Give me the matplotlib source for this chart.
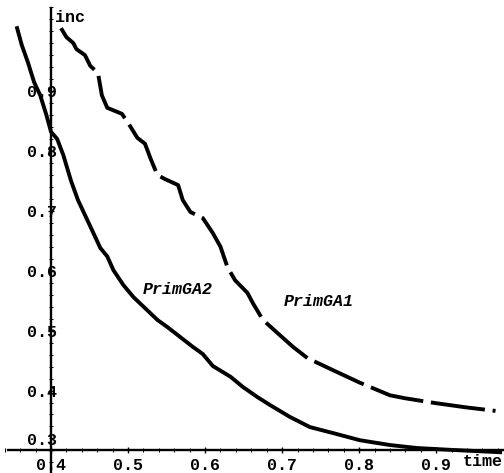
"""Scanned Mathematica-style plot: inc vs time for PrimGA1 / PrimGA2."""
import matplotlib
matplotlib.use("Agg")
import matplotlib.pyplot as plt
import matplotlib.transforms as mtransforms
from matplotlib.ticker import MultipleLocator

# PrimGA1 (upper, dashed)
ga1_time = [0.413, 0.420, 0.429, 0.433, 0.444, 0.451, 0.461, 0.466, 0.473, 0.492,
            0.500, 0.512, 0.522, 0.529, 0.538, 0.548, 0.565, 0.571, 0.581, 0.597,
            0.610, 0.620, 0.629, 0.639, 0.655, 0.662, 0.675, 0.694, 0.714, 0.733,
            0.766, 0.801, 0.840, 0.860, 0.899, 0.938, 0.977]
ga1_inc = [1.005, 0.990, 0.980, 0.970, 0.960, 0.942, 0.930, 0.893, 0.872, 0.862,
           0.847, 0.822, 0.812, 0.788, 0.760, 0.753, 0.743, 0.718, 0.698, 0.688,
           0.663, 0.640, 0.606, 0.584, 0.563, 0.546, 0.518, 0.496, 0.473, 0.454,
           0.434, 0.413, 0.392, 0.387, 0.379, 0.372, 0.366]

# PrimGA2 (lower, solid)
ga2_time = [0.356, 0.362, 0.370, 0.378, 0.386, 0.394, 0.400, 0.408, 0.416, 0.426,
            0.435, 0.447, 0.455, 0.464, 0.473, 0.481, 0.494, 0.507, 0.525, 0.538,
            0.551, 0.568, 0.584, 0.597, 0.610, 0.633, 0.649, 0.668, 0.684, 0.710,
            0.736, 0.766, 0.801, 0.840, 0.875, 0.918, 0.983]
ga2_inc = [1.005, 0.977, 0.948, 0.915, 0.893, 0.860, 0.832, 0.820, 0.793, 0.750,
           0.718, 0.685, 0.663, 0.638, 0.624, 0.601, 0.576, 0.556, 0.534, 0.518,
           0.506, 0.489, 0.473, 0.461, 0.441, 0.423, 0.406, 0.389, 0.376, 0.356,
           0.339, 0.329, 0.317, 0.309, 0.304, 0.301, 0.297]

x_ticks = [0.4, 0.5, 0.6, 0.7, 0.8, 0.9]
y_ticks = [0.3, 0.4, 0.5, 0.6, 0.7, 0.8, 0.9]

MONO = "Liberation Mono"
plt.rcParams.update({"font.family": [MONO, "DejaVu Sans Mono"], "font.weight": "bold"})

fig = plt.figure(figsize=(5.04, 4.73), dpi=100)
ax = fig.add_axes([0, 0, 1, 1])
ax.set_xlim(0.3338, 0.988)
ax.set_ylim(0.2623, 1.052)

ax.plot(ga2_time, ga2_inc, color="black", lw=2.8, solid_joinstyle="round")
ax.plot(ga1_time, ga1_inc, color="black", lw=2.8, dashes=(14, 2.0),
        dash_capstyle="butt")

# axes crossing at (0.4, 0.3), Mathematica style
for side in ("top", "right"):
    ax.spines[side].set_visible(False)
ax.spines["left"].set_position(("data", 0.4))
ax.spines["bottom"].set_position(("data", 0.3))
ax.spines["left"].set_bounds(0.2623, 1.0386)
ax.spines["bottom"].set_bounds(0.344, 0.988)
for s in ("left", "bottom"):
    ax.spines[s].set_linewidth(1.7)

ax.set_xticks(x_ticks)
ax.set_xticklabels([f"{v:.1f}" for v in x_ticks])
ax.set_yticks(y_ticks)
ax.set_yticklabels([f"{v:.1f}" for v in y_ticks])
ax.xaxis.set_minor_locator(MultipleLocator(0.02))
ax.yaxis.set_minor_locator(MultipleLocator(0.02))
ax.tick_params(which="major", direction="inout", length=5, width=1.0, labelsize=12)
ax.tick_params(which="minor", direction="inout", length=2.5, width=0.7)
ax.tick_params(axis="x", pad=3)
ax.tick_params(axis="y", pad=-7)
# lowest y label sits a little above the x axis in the scan
lbl = ax.get_yticklabels()[0]
lbl.set_transform(lbl.get_transform() +
                  mtransforms.ScaledTranslation(0, 8 / 72, fig.dpi_scale_trans))

ax.text(0.405, 1.022, "inc", fontsize=12, ha="left", va="center")
ax.text(0.934, 0.281, "time", fontsize=12, ha="left", va="center")
ax.text(0.565, 0.568, "PrimGA2", fontsize=12, style="italic", ha="center", va="center")
ax.text(0.747, 0.548, "PrimGA1", fontsize=12, style="italic", ha="center", va="center")

fig.savefig("out.png", dpi=100)
